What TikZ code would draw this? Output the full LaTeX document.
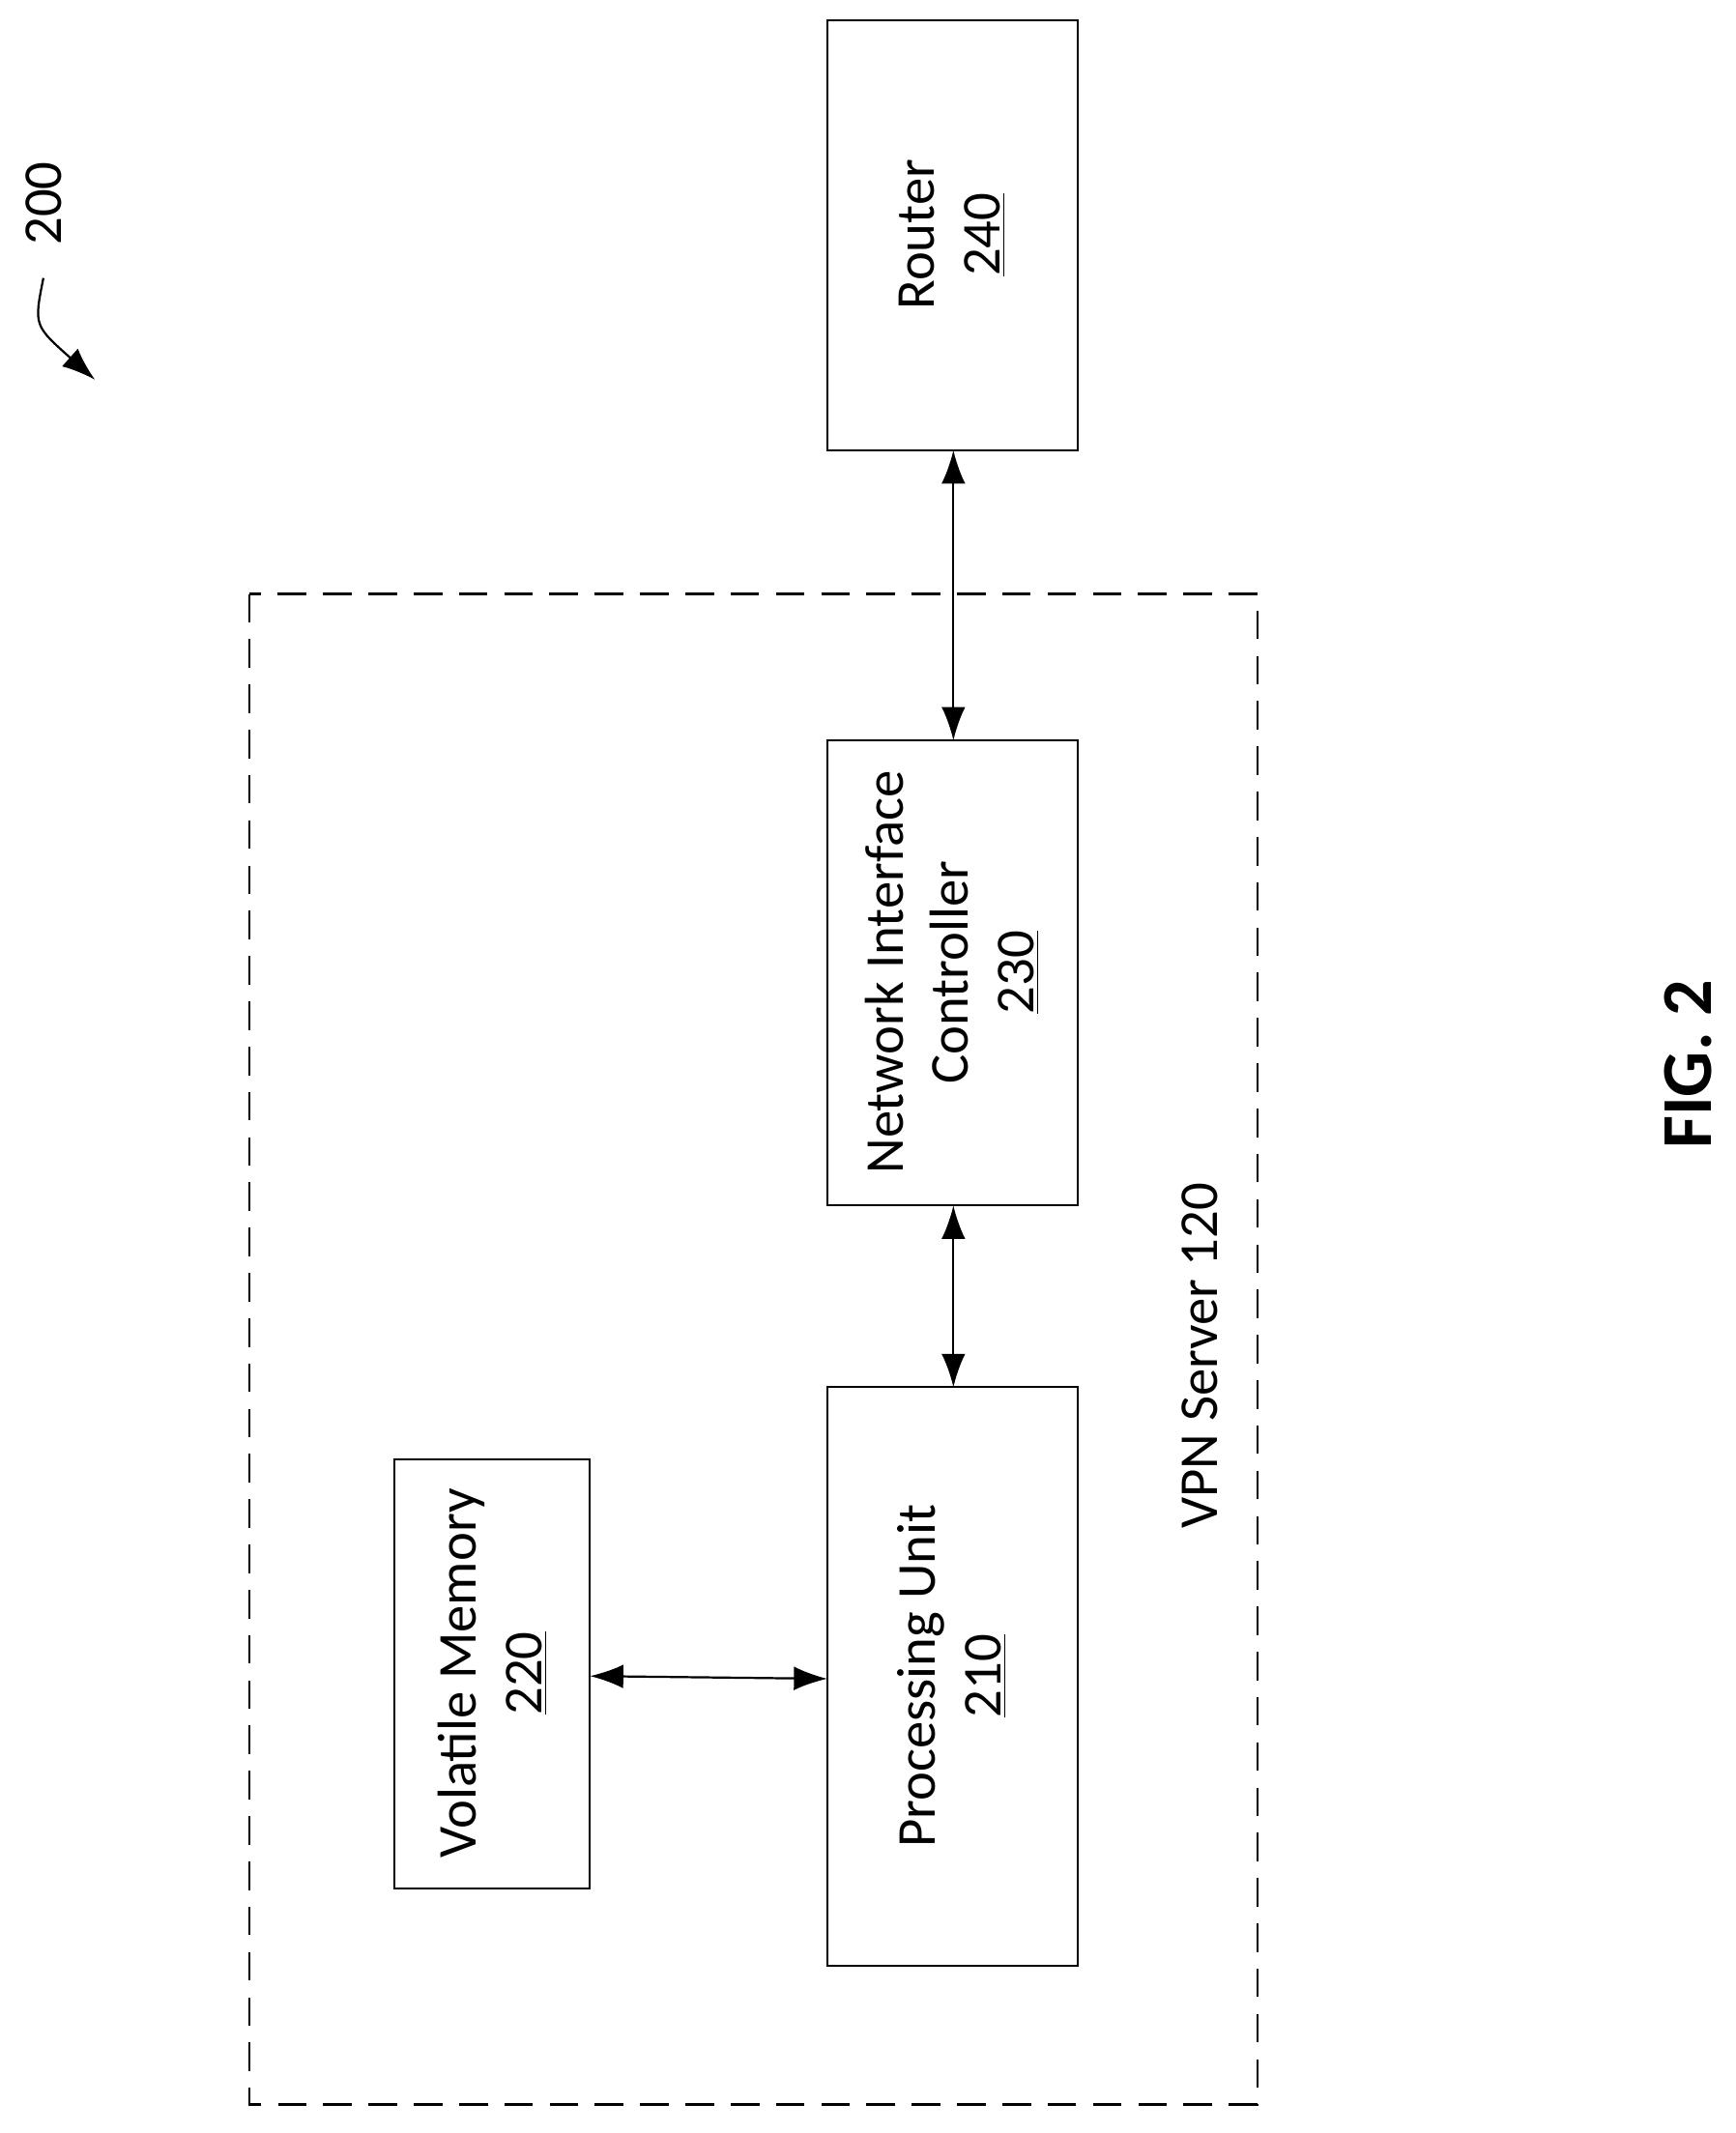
\documentclass[tikz,border=0pt]{standalone}
\usepackage{fontspec}
\setmainfont{Carlito}
\usetikzlibrary{arrows.meta}

\begin{document}
\begin{tikzpicture}[x=0.02cm,y=-0.02cm,
    blk/.style={draw, line width=0.8pt},
    txt/.style={rotate=90, align=center, font=\fontsize{23}{27.5}\selectfont},
    link/.style={{Latex[length=14pt,width=10pt]}-{Latex[length=14pt,width=10pt]}, line width=0.9pt}]
    \useasboundingbox (0,0) rectangle (1280,1573);

    % outer server
    \draw[dashed, dash pattern=on 12pt off 7pt, line width=0.9pt] (184,438) rectangle (927,1552);
    \node[txt] (srv) at (885,1000) {VPN Server 120};

    % blocks
    \draw[blk] (610,15) rectangle (795,332);
    \draw[blk] (610,546) rectangle (795,889);
    \draw[blk] (610,1023) rectangle (795,1450);
    \draw[blk] (291,1076) rectangle (435,1393);
    \node[txt] (router) at (702,173) {Router\\\underline{240}};
    \node[txt] (nic) at (702,717) {Network Interface\\Controller\\\underline{230}};
    \node[txt] (pu) at (702,1236) {Processing Unit\\\underline{210}};
    \node[txt] (vm) at (363,1234) {Volatile Memory\\\underline{220}};

    \coordinate (rB) at (703,332);
    \coordinate (nT) at (703,546);
    \coordinate (nB) at (703,889);
    \coordinate (pT) at (703,1023);
    \coordinate (vR) at (435,1236);
    \coordinate (pL) at (610,1238);
    \draw[link] (rB) -- (nT);
    \draw[link] (nB) -- (pT);
    \draw[link] (vR) -- (pL);

    % figure labels
    \node[txt] (num) at (32,150) {200};
    \coordinate (a1) at (32,205);
    \coordinate (a2) at (70,280);
    \draw[-{Latex[length=14pt,width=10pt]}, line width=0.9pt] (a1) .. controls (25,240) .. (a2);
    \node[txt, font=\fontsize{30}{34}\selectfont\bfseries] (fig) at (1245,785) {FIG. 2};
\end{tikzpicture}
\end{document}
